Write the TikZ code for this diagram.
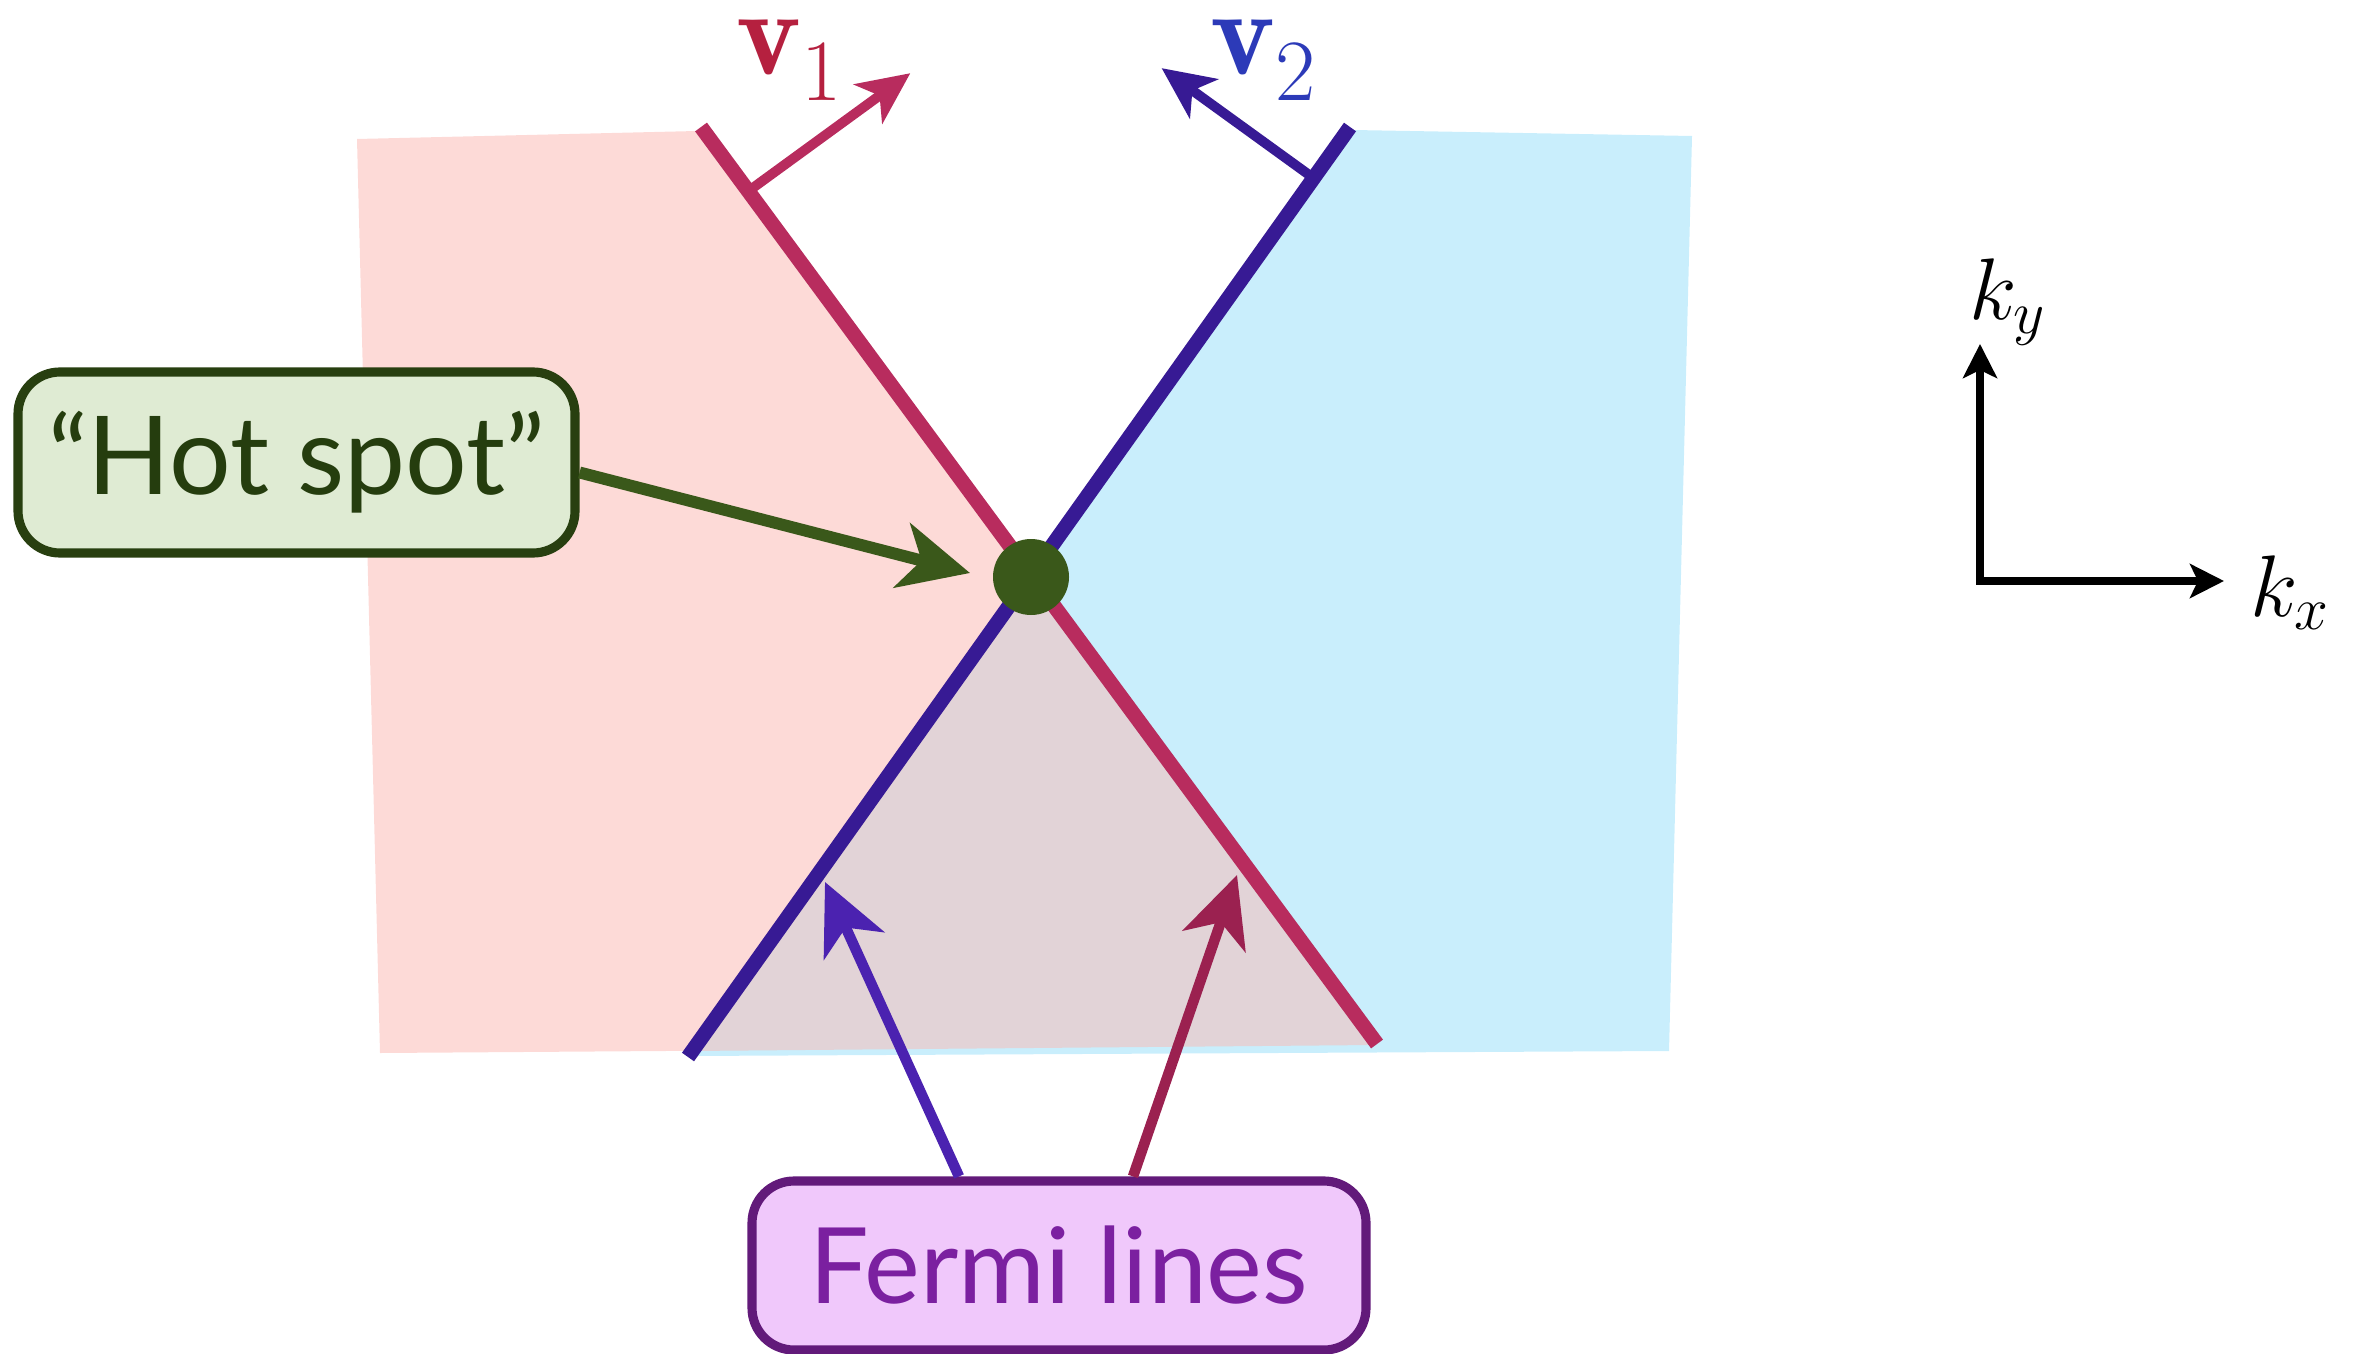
\documentclass[tikz,border=0pt]{standalone}
\usepackage{fontspec}
\usepackage{tikz}
\usetikzlibrary{arrows.meta, positioning, calc}
\newfontfamily\gillfont{Lato}
\definecolor{pinkbg}{RGB}{253,218,215}
\definecolor{cyanbg}{RGB}{201,238,252}
\definecolor{mixbg}{RGB}{226,211,215}
\definecolor{redline}{RGB}{184,44,94}
\definecolor{blueline}{RGB}{55,26,148}
\definecolor{vonecol}{RGB}{181,32,63}
\definecolor{vtwocol}{RGB}{44,58,184}
\definecolor{hotfill}{RGB}{223,235,211}
\definecolor{hotdraw}{RGB}{40,63,16}
\definecolor{hottext}{RGB}{37,61,14}
\definecolor{hotgreen}{RGB}{58,88,26}
\definecolor{fermifill}{RGB}{240,200,251}
\definecolor{fermidraw}{RGB}{98,26,122}
\definecolor{fermitext}{RGB}{123,32,160}
\definecolor{fermileft}{RGB}{75,34,176}
\definecolor{fermiright}{RGB}{155,33,80}

\begin{document}
\begin{tikzpicture}[
          fsline/.style={line width=4.2pt},
          velarrow/.style={line width=2.8pt, -{Stealth[length=5.2mm, width=4.8mm, inset=1.4mm]}},
          pointer/.style={line width=3.4pt, -{Stealth[length=7mm, width=6.6mm, inset=2mm]}},
          axisarrow/.style={line width=2.2pt, -{Stealth[length=3.4mm, width=3.4mm, inset=0.8mm]}},
          labelbox/.style={rectangle, rounded corners=4.2mm, line width=2.6pt, align=center, inner sep=0pt}
        ]
          \useasboundingbox (0,0) rectangle (23.65,13.53);

          % Fermi line end points and the hot spot
          \coordinate (r1) at (7.01,12.26);
          \coordinate (r2) at (13.77,3.09);
          \coordinate (b1) at (13.50,12.26);
          \coordinate (b2) at (6.88,2.96);
          \coordinate (hot) at (10.31,7.76);

          % shaded regions
          \fill[pinkbg] (3.57,12.14) -- (6.97,12.22) -- (13.75,3.07) -- (3.80,3.00) -- cycle;
          \fill[cyanbg] (13.53,12.23) -- (16.92,12.17) -- (16.69,3.02) -- (6.88,2.97) -- cycle;
          \fill[mixbg] (hot) -- (6.90,3.02) -- (13.75,3.08) -- cycle;

          % Fermi lines
          \draw[fsline, blueline] (b1) -- (b2);
          \draw[fsline, redline] (r1) -- (r2);

          % velocities
          \coordinate (v1s) at ($(r1)!0.07!(r2)$);
          \coordinate (v1e) at ($(v1s)+(1.62,1.18)$);
          \coordinate (v2s) at ($(b1)!0.055!(b2)$);
          \coordinate (v2e) at ($(v2s)+(-1.52,1.10)$);
          \draw[velarrow, redline] (v1s) -- (v1e);
          \draw[velarrow, blueline] (v2s) -- (v2e);
          \node[vonecol, inner sep=0pt, font=\fontsize{35}{38}\selectfont] (vone) at (7.90,12.93) {$\mathbf{v}_1$};
          \node[vtwocol, inner sep=0pt, font=\fontsize{35}{38}\selectfont] (vtwo) at (12.64,12.93) {$\mathbf{v}_2$};

          % hot spot
          \node[circle, fill=hotgreen, minimum size=7.6mm, inner sep=0pt] (hotspot) at (hot) {};
          \node[labelbox, draw=hotdraw, fill=hotfill, text=hottext, minimum width=5.57cm, minimum height=1.81cm,
                font=\gillfont\fontsize{31}{35}\selectfont] (hotbox) at (2.965,8.905) {“Hot spot”};
          \coordinate (hottip) at (9.70,7.80);
          \draw[pointer, hotgreen] ([yshift=-1mm]hotbox.east) -- (hottip);

          % Fermi lines label
          \node[labelbox, draw=fermidraw, fill=fermifill, text=fermitext, minimum width=6.14cm, minimum height=1.69cm,
                font=\gillfont\fontsize{30}{34}\selectfont] (fermi) at (10.59,0.875) {Fermi lines};
          \coordinate (fltip) at (8.25,4.71);
          \coordinate (frtip) at (12.37,4.78);
          \draw[pointer, fermileft, line width=3pt] ([xshift=-10mm]fermi.north) -- (fltip);
          \draw[pointer, fermiright, line width=3pt] ([xshift=7.4mm]fermi.north) -- (frtip);

          % axes
          \coordinate (origin) at (19.80,7.72);
          \coordinate (kxend) at (22.24,7.72);
          \coordinate (kyend) at (19.80,10.09);
          \draw[axisarrow] ([xshift=-1.1pt]origin) -- (kxend);
          \draw[axisarrow] (origin) -- (kyend);
          \node[font=\fontsize{25}{30}\selectfont] (kx) at (22.90,7.60) {$k_x$};
          \node[font=\fontsize{25}{30}\selectfont] (ky) at (20.08,10.51) {$k_y$};
        \end{tikzpicture}
\end{document}
